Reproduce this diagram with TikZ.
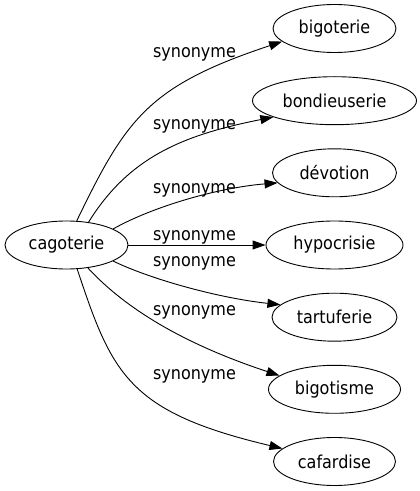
\documentclass[tikz,border=0pt]{standalone}
\usepackage{fontspec}
\setmainfont{DejaVu Sans Condensed}
\usetikzlibrary{shapes.geometric,arrows.meta}
\begin{document}
\begin{tikzpicture}[x=1pt,y=1pt,
  nd/.style={ellipse,draw,line width=0.9pt,inner sep=0pt,minimum height=48pt,font=\fontsize{17.8}{20}\selectfont},
  lbl/.style={anchor=base,inner sep=0pt,font=\fontsize{17.8}{20}\selectfont},
  edge/.style={line width=0.9pt,-{Triangle[length=13pt,width=9pt]}}]
\useasboundingbox (0,0) rectangle (420,491);
\node[nd,minimum width=123pt] (c) at (66.5,246) {cagoterie};
\node[nd,minimum width=123pt] (n1) at (334.5,462.5) {bigoterie};
\node[nd,minimum width=164pt] (n2) at (334.5,390.3) {bondieuserie};
\node[nd,minimum width=124pt] (n3) at (334.5,318.2) {dévotion};
\node[nd,minimum width=137pt] (n4) at (334.5,246) {hypocrisie};
\node[nd,minimum width=125pt] (n5) at (334.5,173.8) {tartuferie};
\node[nd,minimum width=132pt] (n6) at (334.5,101.7) {bigotisme};
\node[nd,minimum width=122pt] (n7) at (334.5,29.5) {cafardise};
\draw[edge] (c.67) .. controls (126,372) and (148,405) .. (n1.194);
\draw[edge] (c.46) .. controls (129,334) and (183,356) .. (n2.195);
\draw[edge] (c.19) .. controls (150,283) and (215,303) .. (n3.190);
\draw[edge] (c.east) -- (n4.west);
\draw[edge] (c.-19) .. controls (150,212) and (218,193) .. (n5.167);
\draw[edge] (c.-47) .. controls (135,172) and (205,140) .. (n6.166);
\draw[edge] (c.-66) .. controls (112,117) and (128,79) .. (n7.166);
\node[lbl] (l1) at (194.5,433.7) {synonyme};
\node[lbl] (l2) at (194.5,361.7) {synonyme};
\node[lbl] (l3) at (194.5,297.7) {synonyme};
\node[lbl] (l4) at (194.5,250.5) {synonyme};
\node[lbl] (l5) at (194.5,224) {synonyme};
\node[lbl] (l6) at (194.5,175) {synonyme};
\node[lbl] (l7) at (194.5,111) {synonyme};
\end{tikzpicture}
\end{document}
